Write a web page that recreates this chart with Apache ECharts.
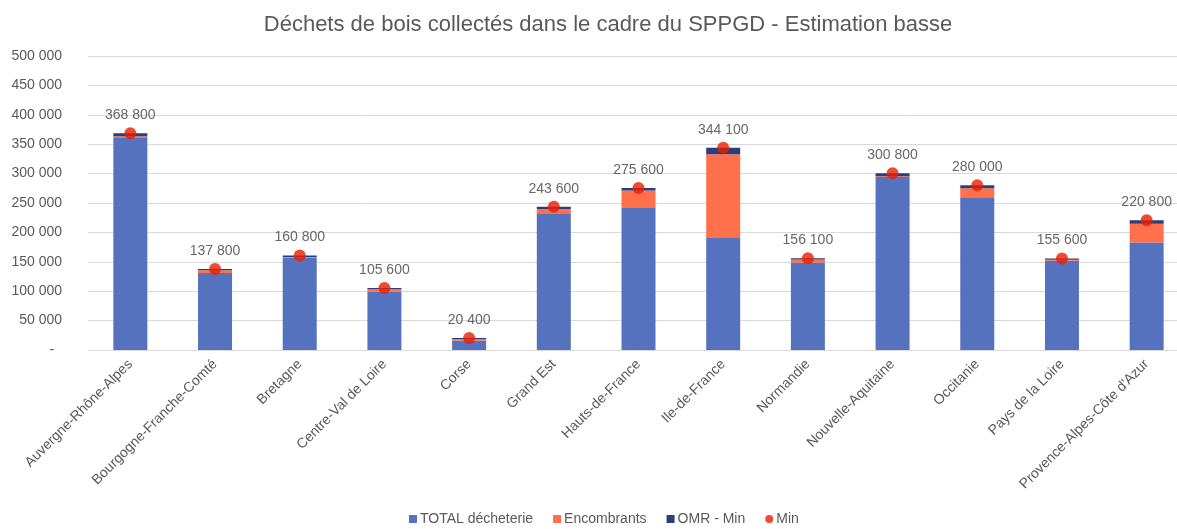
<!DOCTYPE html>
<html>
<head>
<meta charset="utf-8">
<script src="https://cdn.jsdelivr.net/npm/echarts@6/dist/echarts.min.js"></script>
<style>
  html, body { margin: 0; padding: 0; background: #fff; }
  #main { width: 1177px; height: 529px; }
</style>
</head>
<body>
<div id="main"></div>
<script>
// régions
const regions = [
  "Auvergne-Rhône-Alpes", "Bourgogne-Franche-Comté", "Bretagne", "Centre-Val de Loire",
  "Corse", "Grand Est", "Hauts-de-France", "Ile-de-France", "Normandie",
  "Nouvelle-Aquitaine", "Occitanie", "Pays de la Loire", "Provence-Alpes-Côte d'Azur"
];
// tonnages estimés (lecture du graphique)
const totalDecheterie = [362000, 131000, 157000, 99200, 15800, 232400, 242800, 191700, 148700, 294200, 259600, 151800, 182900];
const encombrants = [1500, 4500, 1300, 4500, 3000, 7400, 28300, 141100, 5100, 1500, 15300, 1500, 31700];
const omrMin = [5300, 2300, 2500, 1900, 1600, 3800, 4500, 11300, 2300, 5100, 5100, 2300, 6200];
const minTotal = [368800, 137800, 160800, 105600, 20400, 243600, 275600, 344100, 156100, 300800, 280000, 155600, 220800];

const fmt = (v) => String(Math.round(v)).replace(/\B(?=(\d{3})+(?!\d))/g, " ");

const mychart = echarts.init(document.getElementById("main"));
const font = "'Liberation Sans', Arial, sans-serif";

mychart.setOption({
  animation: false,
  textStyle: { fontFamily: font },
  title: {
    text: "Déchets de bois collectés dans le cadre du SPPGD - Estimation basse",
    left: 603,
    textAlign: "center",
    top: 9,
    textStyle: { color: "#595959", fontSize: 22, fontWeight: "normal", fontFamily: font }
  },
  legend: {
    bottom: -2,
    left: 404,
    itemWidth: 8,
    itemHeight: 8,
    itemGap: 20,
    textStyle: { color: "#595959", fontSize: 14, padding: [0, 0, 0, -2] },
    data: [
      { name: "TOTAL décheterie", icon: "rect" },
      { name: "Encombrants", icon: "rect" },
      { name: "OMR - Min", icon: "rect" },
      { name: "Min", icon: "circle" }
    ]
  },
  // la zone de tracé dépasse le bord droit, comme dans l'original recadré
  grid: { left: 88, width: 1101, top: 56, bottom: 179, outerBoundsMode: "none" },
  xAxis: {
    type: "category",
    data: regions,
    axisTick: { show: false },
    axisLine: { lineStyle: { color: "#d9d9d9" } },
    axisLabel: { rotate: 45, color: "#595959", fontSize: 14, interval: 0, margin: 12 }
  },
  yAxis: {
    type: "value",
    min: 0,
    max: 500000,
    interval: 50000,
    axisLine: { show: false },
    axisTick: { show: false },
    splitLine: { lineStyle: { color: "#d9d9d9" } },
    axisLabel: {
      color: "#595959",
      fontSize: 14,
      margin: 26,
      formatter: (v) => (v === 0 ? "-  " : fmt(v))
    }
  },
  series: [
    {
      name: "TOTAL décheterie",
      type: "bar",
      stack: "t",
      barWidth: 34,
      itemStyle: { color: "#5572BE" },
      data: totalDecheterie
    },
    {
      name: "Encombrants",
      type: "bar",
      stack: "t",
      barWidth: 34,
      itemStyle: { color: "#FF704B" },
      data: encombrants
    },
    {
      name: "OMR - Min",
      type: "bar",
      stack: "t",
      barWidth: 34,
      itemStyle: { color: "#2A3E7E" },
      data: omrMin
    },
    {
      name: "Min",
      type: "scatter",
      symbol: "circle",
      symbolSize: 12,
      itemStyle: { color: "#E81E00" },
      label: {
        show: true,
        position: "top",
        distance: 5,
        color: "#404040",
        fontSize: 14,
        formatter: (p) => fmt(p.value)
      },
      data: minTotal,
      z: 5
    }
  ]
});
</script>
</body>
</html>
